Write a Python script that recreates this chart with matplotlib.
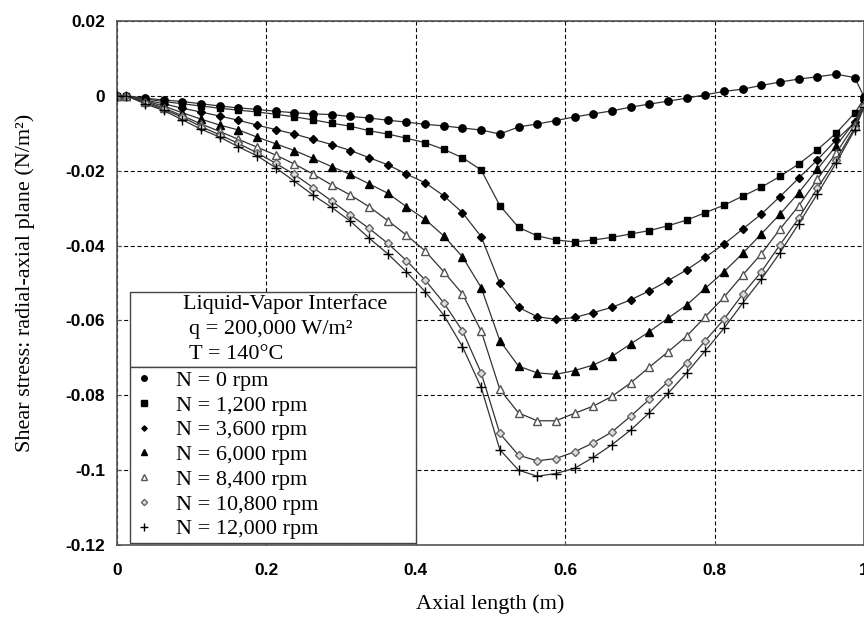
import matplotlib
matplotlib.use("Agg")
import matplotlib.pyplot as plt
from matplotlib.lines import Line2D
from matplotlib.patches import Rectangle

# axial positions (cell centres plus both ends)
x = [0.0, 0.0125, 0.0375, 0.0625, 0.0875, 0.1125, 0.1375, 0.1625, 0.1875, 0.2125,
     0.2375, 0.2625, 0.2875, 0.3125, 0.3375, 0.3625, 0.3875, 0.4125, 0.4375, 0.4625,
     0.4875, 0.5125, 0.5375, 0.5625, 0.5875, 0.6125, 0.6375, 0.6625, 0.6875, 0.7125,
     0.7375, 0.7625, 0.7875, 0.8125, 0.8375, 0.8625, 0.8875, 0.9125, 0.9375, 0.9625,
     0.9875, 1.0]

n0 = [0, 0, -0.0006, -0.0011, -0.0015, -0.0021, -0.0027, -0.0032, -0.0036, -0.0041,
      -0.0045, -0.0048, -0.0050, -0.0055, -0.0059, -0.0065, -0.0070, -0.0076, -0.0080, -0.0086,
      -0.0091, -0.0102, -0.0083, -0.0075, -0.0066, -0.0056, -0.0048, -0.0040, -0.0030, -0.0022,
      -0.0014, -0.0006, 0.0003, 0.0012, 0.0018, 0.0028, 0.0037, 0.0045, 0.0051, 0.0058,
      0.0049, -0.0002]
n1200 = [0, 0, -0.0008, -0.0015, -0.0021, -0.0027, -0.0033, -0.0038, -0.0043, -0.0049,
         -0.0056, -0.0064, -0.0073, -0.0081, -0.0093, -0.0102, -0.0113, -0.0125, -0.0143, -0.0165,
         -0.0198, -0.0293, -0.0351, -0.0374, -0.0385, -0.0390, -0.0385, -0.0378, -0.0369, -0.0360,
         -0.0347, -0.0332, -0.0312, -0.0292, -0.0268, -0.0244, -0.0215, -0.0182, -0.0144, -0.0100,
         -0.0046, -0.0008]
n3600 = [0, 0, -0.0011, -0.0021, -0.0033, -0.0043, -0.0054, -0.0065, -0.0078, -0.0090,
         -0.0102, -0.0116, -0.0130, -0.0146, -0.0165, -0.0184, -0.0209, -0.0232, -0.0267, -0.0312,
         -0.0376, -0.0501, -0.0565, -0.0590, -0.0597, -0.0592, -0.0579, -0.0565, -0.0545, -0.0521,
         -0.0494, -0.0465, -0.0431, -0.0396, -0.0356, -0.0316, -0.0269, -0.0220, -0.0171, -0.0118,
         -0.0071, -0.0012]
n6000 = [0, 0, -0.0013, -0.0027, -0.0045, -0.0062, -0.0078, -0.0091, -0.0110, -0.0128,
         -0.0146, -0.0167, -0.0189, -0.0210, -0.0235, -0.0260, -0.0296, -0.0330, -0.0374, -0.0430,
         -0.0512, -0.0654, -0.0722, -0.0740, -0.0744, -0.0734, -0.0719, -0.0696, -0.0663, -0.0630,
         -0.0594, -0.0559, -0.0514, -0.0470, -0.0421, -0.0369, -0.0316, -0.0259, -0.0196, -0.0134,
         -0.0069, -0.0018]
n8400 = [0, 0, -0.0015, -0.0032, -0.0053, -0.0075, -0.0095, -0.0116, -0.0137, -0.0158,
         -0.0182, -0.0209, -0.0238, -0.0265, -0.0296, -0.0333, -0.0372, -0.0414, -0.0470, -0.0529,
         -0.0628, -0.0784, -0.0847, -0.0868, -0.0868, -0.0848, -0.0829, -0.0803, -0.0767, -0.0725,
         -0.0684, -0.0642, -0.0590, -0.0538, -0.0479, -0.0422, -0.0356, -0.0294, -0.0223, -0.0153,
         -0.0078, -0.0022]
n10800 = [0, 0, -0.0018, -0.0036, -0.0057, -0.0082, -0.0104, -0.0127, -0.0152, -0.0180,
          -0.0210, -0.0245, -0.0281, -0.0318, -0.0354, -0.0394, -0.0440, -0.0492, -0.0553, -0.0628,
          -0.0740, -0.0902, -0.0960, -0.0975, -0.0969, -0.0951, -0.0927, -0.0898, -0.0856, -0.0811,
          -0.0764, -0.0713, -0.0654, -0.0597, -0.0530, -0.0470, -0.0398, -0.0327, -0.0247, -0.0171,
          -0.0086, -0.0026]
n12000 = [0, 0, -0.0021, -0.0039, -0.0064, -0.0089, -0.0110, -0.0136, -0.0160, -0.0192,
          -0.0228, -0.0265, -0.0298, -0.0335, -0.0380, -0.0422, -0.0470, -0.0523, -0.0586, -0.0670,
          -0.0779, -0.0945, -0.1000, -0.1016, -0.1009, -0.0995, -0.0966, -0.0932, -0.0893, -0.0847,
          -0.0795, -0.0740, -0.0681, -0.0621, -0.0554, -0.0490, -0.0419, -0.0342, -0.0262, -0.0180,
          -0.0091, -0.0030]

labels = ["N = 0 rpm", "N = 1,200 rpm", "N = 3,600 rpm", "N = 6,000 rpm",
          "N = 8,400 rpm", "N = 10,800 rpm", "N = 12,000 rpm"]
series = [n0, n1200, n3600, n6000, n8400, n10800, n12000]
# marker, size, face, edge
styles = [("o", 5.3, "black", "black"),
          ("s", 5.0, "black", "black"),
          ("D", 3.6, "black", "black"),
          ("^", 6.0, "black", "black"),
          ("^", 5.8, "white", "#555555"),
          ("D", 4.2, "#dddddd", "#666666"),
          ("+", 7.0, "black", "black")]

serif = "Liberation Serif"

fig = plt.figure(figsize=(8.64, 6.19), dpi=100)
ax = fig.add_axes([0.1354, 0.1195, 0.8646, 0.8465])

for ys, lab, (m, ms, fc, ec) in zip(series, labels, styles):
    ax.plot(x, ys, color="#333333", lw=0.9, marker=m, ms=ms,
            mfc=fc, mec=ec, mew=1.0, zorder=3)

ax.set_xlim(0, 1)
ax.set_ylim(-0.12, 0.02)
xt = [0, 0.2, 0.4, 0.6, 0.8, 1.0]
yt = [-0.12, -0.1, -0.08, -0.06, -0.04, -0.02, 0, 0.02]
ax.set_xticks(xt)
ax.set_xticklabels(["0", "0.2", "0.4", "0.6", "0.8", "1"])
ax.set_yticks(yt)
ax.set_yticklabels(["-0.12", "-0.1", "-0.08", "-0.06", "-0.04", "-0.02", "0", "0.02"])
for lab in ax.get_xticklabels() + ax.get_yticklabels():
    lab.set_fontfamily("Liberation Sans")
    lab.set_fontweight("bold")
    lab.set_fontsize(12.5)
ax.tick_params(direction="in", length=3, color="#555555")
ax.tick_params(axis="x", pad=13)
ax.tick_params(axis="y", pad=8.5)
ax.grid(True, linestyle=(0, (3.6, 2.4)), color="black", linewidth=0.8)
ax.set_axisbelow(True)
for sp in ax.spines.values():
    sp.set_color("#555555")
    sp.set_linewidth(1.2)

ax.set_xlabel("Axial length (m)", fontfamily=serif, fontsize=16, labelpad=12)
ax.set_ylabel("Shear stress: radial-axial plane (N/m²)", fontfamily=serif,
              fontsize=16, labelpad=22)

# header box above the legend
bx, bw = 0.0174, 0.3826
hdr = Rectangle((bx, 0.340), bw, 0.1429, transform=ax.transAxes,
                fc="white", ec="#444444", lw=1.0, zorder=5)
ax.add_patch(hdr)
ax.text(0.088, 0.459, "Liquid-Vapor Interface", transform=ax.transAxes,
        fontfamily=serif, fontsize=16, va="center", zorder=6)
ax.text(0.097, 0.4115, "q = 200,000 W/m²", transform=ax.transAxes,
        fontfamily=serif, fontsize=16, va="center", zorder=6)
ax.text(0.097, 0.364, "T = 140°C", transform=ax.transAxes,
        fontfamily=serif, fontsize=16, va="center", zorder=6)

handles = [Line2D([], [], ls="none", marker=m, ms=ms * 0.75, mfc=fc, mec=ec)
           for (m, ms, fc, ec) in styles]
leg = ax.legend(handles, labels, loc="upper left",
                bbox_to_anchor=(bx, 0.0057, bw, 0.3343), mode="expand",
                prop={"family": serif, "size": 16}, frameon=True, fancybox=False,
                framealpha=1, edgecolor="#444444", borderaxespad=0,
                labelspacing=0.19, handlelength=1.0, handletextpad=0.9,
                borderpad=0.15)
leg.get_frame().set_linewidth(1.0)

fig.savefig("out.png", dpi=100)
